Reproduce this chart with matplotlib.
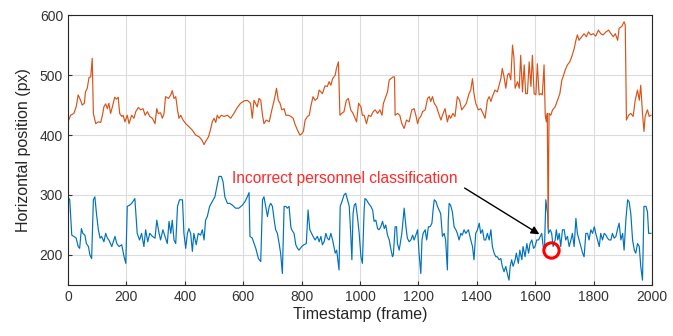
import numpy as np
import matplotlib.pyplot as plt

# orange track (person 2)
orange_f = [0, 9, 20, 28, 35, 43, 49, 56, 60, 66, 72, 78, 83, 87, 95, 104, 112, 118, 123, 129,
            135, 140, 146, 152, 160, 166, 172, 177, 184, 189, 195, 203, 209, 218, 226, 232, 241,
            249, 257, 264, 272, 280, 289, 298, 304, 309, 317, 323, 329, 334, 344, 352, 357, 363,
            369, 375, 380, 386, 394, 403, 414, 426, 437, 449, 458, 466, 471, 481, 489, 494, 500,
            506, 511, 517, 525, 534, 546, 557, 568, 580, 591, 603, 614, 625, 631, 637, 648,
            654, 660, 666, 671, 679, 689, 698, 706, 714, 720, 726, 732, 740, 746, 755, 763, 771,
            778, 786, 794, 800, 806, 812, 820, 826, 831, 839, 846, 854, 860, 866, 871, 880, 888,
            894, 900, 906, 915, 919, 926, 931, 937, 945, 953, 960, 968, 976, 983, 988, 995, 1003,
            1008, 1014, 1022, 1029, 1037, 1045, 1052, 1060, 1068, 1075, 1080, 1088, 1094, 1100,
            1105, 1113, 1118, 1120, 1128, 1136, 1143, 1151, 1159, 1168, 1177, 1185, 1191, 1197,
            1202, 1208, 1214, 1223, 1231, 1237, 1242, 1248, 1254, 1262, 1269, 1277, 1282, 1291,
            1299, 1305, 1310, 1318, 1325, 1333, 1341, 1348, 1356, 1364, 1373, 1379, 1385, 1390,
            1396, 1405, 1413, 1421, 1428, 1436, 1442, 1448, 1453, 1462, 1470, 1476, 1482, 1487,
            1493, 1499, 1505, 1510, 1516, 1522, 1527, 1531, 1539, 1545, 1550, 1556, 1562, 1567,
            1573, 1579, 1585, 1590, 1596, 1602, 1607, 1613, 1619, 1624, 1630, 1634, 1638, 1641,
            1644, 1647, 1653, 1659, 1668, 1676, 1684, 1691, 1695, 1702, 1710, 1718, 1725, 1733,
            1739, 1744, 1750, 1759, 1767, 1775, 1782, 1790, 1798, 1807, 1816, 1824, 1832, 1842,
            1851, 1859, 1867, 1874, 1882, 1887, 1896, 1904, 1908, 1912, 1919, 1927, 1935, 1942,
            1950, 1956, 1961, 1967, 1972, 1976, 1984, 1990, 1996]
orange_v = [422, 433, 436, 447, 467, 458, 450, 453, 472, 478, 496, 497, 528, 436, 419, 422, 421, 433, 447, 452,
            444, 453, 436, 447, 463, 460, 463, 436, 431, 433, 422, 433, 419, 433, 428, 439, 446,
            442, 444, 433, 439, 431, 428, 419, 444, 436, 437, 428, 436, 464, 461, 467, 474, 461,
            464, 442, 428, 433, 425, 419, 414, 408, 400, 397, 392, 384, 389, 397, 411, 422, 428,
            421, 433, 428, 433, 431, 433, 428, 436, 446, 453, 457, 458, 453, 428, 458, 447,
            461, 458, 433, 419, 425, 422, 442, 458, 478, 458, 453, 442, 444, 433, 433, 431, 428,
            417, 408, 400, 402, 406, 425, 431, 433, 447, 464, 458, 461, 475, 472, 469, 482, 481,
            489, 483, 494, 500, 511, 522, 433, 436, 439, 458, 461, 442, 436, 428, 422, 453, 447,
            433, 433, 419, 433, 431, 439, 442, 436, 442, 433, 453, 464, 472, 492,
            494, 497, 497, 433, 436, 433, 419, 411, 425, 422, 442, 444, 433, 419,
            428, 431, 439, 442, 461, 464, 456, 464, 453, 447, 436, 425, 433, 444,
            422, 433, 428, 436, 431, 464, 458, 442, 447, 453, 469, 475, 494, 469,
            453, 442, 444, 436, 428, 458, 464, 456, 464, 475, 472, 483, 494, 511,
            497, 478, 500, 503, 492, 550, 528, 478, 489, 478, 533, 472, 517, 469,
            469, 522, 481, 533, 469, 467, 519, 467, 469, 467, 517, 433, 422, 436,
            244, 436, 433, 442, 447, 458, 469, 492, 497, 508, 517, 522, 531, 544,
            558, 567, 558, 564, 569, 564, 572, 567, 569, 565, 575, 569, 567, 572,
            575, 569, 564, 569, 558, 578, 581, 589, 583, 425, 433, 436, 431, 458,
            475, 458, 483, 436, 406, 431, 442, 431, 433]

# blue track (person 1)
blue_f = [0, 6, 13, 20, 28, 35, 40, 46, 51, 58, 63, 70, 75, 81, 87, 92, 98, 104, 110, 115,
          123, 129, 135, 140, 150, 155, 161, 167, 175, 184, 192, 198, 203, 211, 218, 226, 229,
          237, 245, 252, 260, 266, 273, 280, 289, 298, 304, 312, 317, 325, 332, 340, 346, 352,
          357, 363, 369, 375, 382, 392, 397, 403, 409, 414, 420, 426, 431, 439, 446, 454, 460,
          466, 471, 477, 485, 494, 503, 511, 517, 525, 531, 537, 546, 554, 563, 574, 585, 597,
          606, 614, 620, 623, 631, 643, 652, 660, 666, 671, 677, 683, 689, 694, 700, 706, 711,
          717, 723, 728, 734, 740, 746, 751, 757, 763, 766, 774, 780, 786, 791, 800, 808, 816,
          822, 828, 834, 839, 846, 854, 860, 866, 871, 877, 883, 888, 894, 900, 906, 915, 920,
          928, 932, 940, 945, 951, 957, 963, 968, 972, 976, 980, 985, 991, 997, 1003, 1008,
          1014, 1017, 1022, 1029, 1037, 1043, 1048, 1054, 1060, 1065, 1071, 1077, 1083, 1088,
          1094, 1100, 1105, 1111, 1114, 1120, 1125, 1128, 1134, 1143, 1151, 1157, 1162, 1168,
          1174, 1180, 1185, 1191, 1197, 1202, 1208, 1212, 1216, 1223, 1228, 1234, 1240, 1246,
          1250, 1254, 1260, 1265, 1276, 1282, 1288, 1293, 1299, 1302, 1305, 1310, 1316, 1322,
          1328, 1333, 1339, 1345, 1350, 1356, 1362, 1371, 1379, 1385, 1390, 1396, 1402, 1408,
          1413, 1419, 1425, 1430, 1436, 1442, 1448, 1453, 1459, 1465, 1470, 1476, 1482, 1487,
          1493, 1499, 1505, 1510, 1514, 1519, 1524, 1531, 1535, 1542, 1547, 1554, 1558, 1565,
          1571, 1577, 1582, 1588, 1594, 1599, 1605, 1611, 1617, 1622, 1627, 1631, 1636, 1642,
          1645, 1651, 1656, 1661, 1668, 1672, 1677, 1682, 1687, 1693, 1699, 1704, 1710, 1716,
          1722, 1727, 1733, 1739, 1744, 1750, 1756, 1762, 1767, 1773, 1779, 1784, 1790, 1796,
          1802, 1807, 1813, 1819, 1824, 1830, 1836, 1842, 1847, 1853, 1859, 1864, 1870, 1876,
          1881, 1887, 1893, 1899, 1904, 1910, 1916, 1921, 1927, 1933, 1939, 1944, 1950, 1956,
          1961, 1967, 1972, 1979, 1984, 1988, 1996]
blue_v = [297, 292, 233, 231, 228, 214, 211, 244, 236, 233, 219, 214, 200, 194, 292, 297, 267, 242, 228, 231,
          222, 236, 228, 225, 214, 222, 231, 219, 214, 217, 197, 186, 281, 283, 286, 292, 294,
          236, 225, 236, 214, 242, 222, 236, 231, 228, 258, 236, 225, 242, 231, 219, 256, 236,
          258, 225, 219, 281, 292, 292, 236, 211, 236, 244, 236, 206, 236, 217, 236, 233, 242,
          225, 258, 264, 281, 289, 297, 317, 331, 331, 322, 297, 286, 286, 283, 278, 278, 283,
          289, 297, 304, 231, 228, 211, 194, 189, 292, 297, 281, 264, 281, 286, 281, 258, 242,
          236, 219, 203, 169, 281, 281, 278, 281, 247, 242, 236, 217, 211, 208, 214, 217, 219,
          275, 242, 236, 231, 225, 231, 222, 231, 217, 222, 236, 228, 225, 236, 225, 203, 208,
          175, 281, 292, 300, 303, 292, 281, 236, 192, 269, 283, 286, 264, 236, 197, 186,
          275, 294, 292, 286, 281, 275, 256, 258, 244, 242, 247, 256, 244, 250,
          233, 225, 211, 197, 200, 247, 247, 219, 208, 236, 278, 247, 228, 222,
          225, 233, 225, 233, 242, 203, 169, 225, 236, 242, 225, 247, 247, 253,
          275, 292, 289, 281, 269, 231, 236, 225, 175, 258, 286, 283, 272, 247,
          242, 236, 225, 236, 233, 242, 236, 242, 225, 214, 192, 236, 242, 253,
          236, 242, 225, 225, 236, 225, 242, 214, 203, 197, 197, 192, 194, 181,
          172, 181, 167, 158, 181, 192, 181, 192, 203, 186, 208, 192, 214, 197,
          219, 203, 219, 225, 211, 214, 225, 225, 231, 236, 214, 203, 292, 269,
          236, 242, 236, 214, 225, 242, 225, 236, 214, 242, 242, 225, 231, 214,
          225, 236, 214, 261, 236, 225, 214, 203, 197, 236, 236, 225, 242, 236,
          247, 236, 225, 214, 236, 225, 236, 233, 228, 225, 225, 236, 228, 231,
          242, 253, 225, 236, 208, 258, 292, 289, 269, 225, 208, 203, 219, 214,
          181, 158, 281, 281, 272, 236, 236]

# misclassified frame
err_f = [1655]
err_v = [209]

plt.rcParams['font.family'] = ['Liberation Sans', 'DejaVu Sans']

fig = plt.figure(figsize=(6.73, 3.36), dpi=100)
ax = fig.add_axes([0.101, 0.152, 0.868, 0.803])

ax.plot(blue_f, blue_v, color='#0072BD', lw=0.85)
ax.plot(orange_f, orange_v, color='#D95319', lw=0.85)
ax.plot(err_f, err_v, 'o', mfc='none', mec='red', ms=11, mew=2.2)

ax.text(949, 328, 'Incorrect personnel classification', color='#ff2a2a', fontsize=11.2,
        ha='center', va='center')
ax.annotate('', xy=(1622, 232), xytext=(1350, 314),
            arrowprops=dict(arrowstyle='-|>', color='black', lw=1.0, mutation_scale=12))

ax.set_xlim(0, 2000)
ax.set_ylim(150, 600)
ax.set_xticks(np.arange(0, 2001, 200))
ax.set_yticks([200, 300, 400, 500, 600])
ax.grid(True, color='#dcdcdc', lw=0.8)
ax.set_axisbelow(True)
ax.tick_params(direction='in', labelsize=10, colors='#333333', length=3)
for s in ax.spines.values():
    s.set_color('#262626')
    s.set_linewidth(0.8)

ax.set_xlabel('Timestamp (frame)', fontsize=11.5, color='#262626', labelpad=2)
ax.set_ylabel('Horizontal position (px)', fontsize=11.5, color='#262626', labelpad=6)

fig.savefig('out.png', dpi=100)
